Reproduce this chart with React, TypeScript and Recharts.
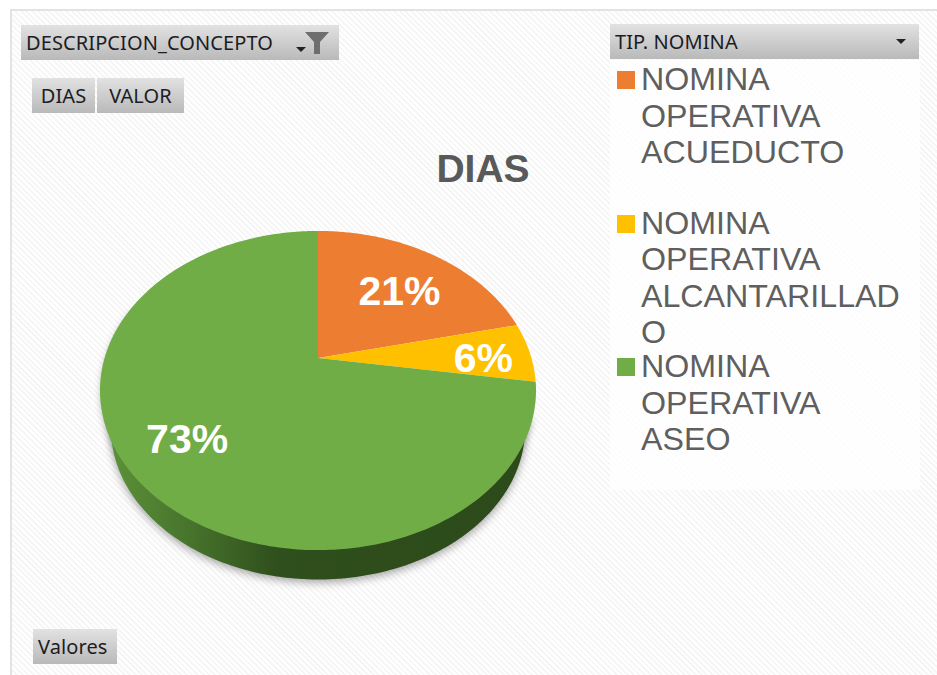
import React from 'react'
import { PieChart, Pie, Cell, Legend } from 'recharts'

const CATEGORIES = ['NOMINA OPERATIVA ACUEDUCTO', 'NOMINA OPERATIVA ALCANTARILLADO', 'NOMINA OPERATIVA ASEO']
// labels round these to 21%, 6% and 73%
const VALUES = [21.4, 6.0, 72.6]
const COLORS = ['#ED7D31', '#FFC000', '#70AD47']
// how far along the radius each percentage sits
const LABEL_RADIUS = [0.68, 0.78, 0.73]
const LABEL_SHIFT = [6, 4, 0]

const chartData = CATEGORIES.map((name, i) => ({ name, value: VALUES[i] }))

// tilted disc: the circle goes through a perspective projection around the pie centre
const TILT = 0.2038
const project = (cx: number, cy: number, r: number, angle: number, frac = 1) => {
  const rad = (angle * Math.PI) / 180
  const u = Math.sin(rad) * frac
  const x = Math.cos(rad) * frac
  const d = 1 + TILT * u
  return [cx + (1.334 * r * x) / d, cy - (0.956 * r * u) / d]
}

const sectorPath = (cx: number, cy: number, r: number, start: number, end: number, scale = 1, dy = 0) => {
  const pts: string[] = [`M${cx},${cy + dy}`]
  const steps = Math.ceil(Math.abs(end - start))
  for (let i = 0; i <= steps; i++) {
    const [px, py] = project(cx, cy, r, start + ((end - start) * i) / steps)
    pts.push(`L${(cx + (px - cx) * scale).toFixed(2)},${(cy + (py - cy) * scale + dy).toFixed(2)}`)
  }
  return pts.join(' ') + ' Z'
}

function TiltedSector(props: any) {
  const { cx, cy, outerRadius, startAngle, endAngle, fill, index } = props
  const isLast = index === VALUES.length - 1
  return (
    <g>
      {isLast && (
        <>
          {/* wall and soft shadow only on the front part, away from the orange and yellow edges */}
          <path
            d={sectorPath(cx, cy, outerRadius, startAngle - 12, endAngle + 70, 1, 3)}
            fill="rgba(0,0,0,0.22)"
            style={{ filter: 'blur(3px)' }}
          />
          <path
            d={sectorPath(cx, cy, outerRadius, startAngle, endAngle + 70, 0.95, 39)}
            fill="url(#wallFill)"
            style={{ filter: 'drop-shadow(0px 3px 4px rgba(0,0,0,0.35))' }}
          />
        </>
      )}
      <path d={sectorPath(cx, cy, outerRadius, startAngle, endAngle)} fill={fill} />
    </g>
  )
}

function PercentLabel(props: any) {
  const { cx, cy, outerRadius, midAngle, value, index } = props
  const [x, y] = project(cx, cy, outerRadius, midAngle, LABEL_RADIUS[index])
  return (
    <text
      x={x}
      y={y + LABEL_SHIFT[index]}
      fill="#fff"
      fontFamily="Liberation Sans"
      fontWeight="bold"
      fontSize={41}
      textAnchor="middle"
      dominantBaseline="central"
    >
      {Math.round(value)}%
    </text>
  )
}

function LegendList({ payload }: any) {
  return (
    <div style={{ background: 'rgba(255,255,255,0.78)', height: 430, fontFamily: 'Liberation Sans', color: '#5f5f5f' }}>
      {(payload ?? []).map((entry: any) => (
        <div key={entry.value} style={{ height: 143.5, position: 'relative' }}>
          <div style={{ position: 'absolute', left: 7, top: 11, width: 18, height: 18, background: entry.color }} />
          <div
            style={{
              position: 'absolute',
              left: 31,
              top: 1,
              width: 268,
              fontSize: 32.2,
              lineHeight: '36.5px',
              wordBreak: 'break-word',
              overflowWrap: 'anywhere',
            }}
          >
            {entry.value}
          </div>
        </div>
      ))}
    </div>
  )
}

function FieldButton({ left, top, width, center, children }: any) {
  return (
    <div
      style={{
        position: 'absolute',
        left,
        top,
        width,
        height: 35,
        boxSizing: 'border-box',
        paddingLeft: center ? 0 : 5,
        textAlign: center ? 'center' : 'left',
        background: 'linear-gradient(#e2e2e2, #b9b9b9)',
        fontFamily: 'Noto Sans',
        fontSize: 20,
        letterSpacing: 0.1,
        lineHeight: '35px',
        color: '#1c1c24',
        whiteSpace: 'nowrap',
      }}
    >
      {children}
    </div>
  )
}

const DropArrow = ({ left, top }: any) => (
  <div
    style={{
      position: 'absolute',
      left,
      top,
      width: 0,
      height: 0,
      borderLeft: '5px solid transparent',
      borderRight: '5px solid transparent',
      borderTop: '5px solid #222',
    }}
  />
)

export default function App() {
  return (
    <div
      style={{
        position: 'absolute',
        left: 0,
        top: 0,
        width: 937,
        height: 675,
        overflow: 'hidden',
        background: '#fff',
      }}
    >
      <div
        style={{
          position: 'absolute',
          left: 10,
          top: 9,
          width: 940,
          height: 680,
          border: '2px solid #e3e3e3',
          background: 'repeating-linear-gradient(45deg, #ffffff 0px, #ffffff 2px, #f6f6f6 2px, #f6f6f6 4px)',
        }}
      />
      <div style={{ position: 'absolute', left: 0, top: 0 }}>
        <PieChart width={937} height={675} margin={{ top: 0, right: 0, bottom: 0, left: 0 }}>
          <defs>
            <linearGradient id="wallFill" gradientUnits="userSpaceOnUse" x1="110" y1="0" x2="530" y2="0">
              <stop offset="0" stopColor="#5c9139" />
              <stop offset="0.18" stopColor="#48752d" />
              <stop offset="0.4" stopColor="#2f4f1c" />
              <stop offset="1" stopColor="#2c4a1a" />
            </linearGradient>
          </defs>
          <Pie
            data={chartData}
            dataKey="value"
            nameKey="name"
            cx={318}
            cy={358}
            outerRadius={160}
            startAngle={90}
            endAngle={-270}
            stroke="none"
            shape={TiltedSector}
            label={PercentLabel}
            labelLine={false}
            isAnimationActive={false}
          >
            {chartData.map((_, i) => (
              <Cell key={i} fill={COLORS[i]} />
            ))}
          </Pie>
          <Legend
            content={<LegendList />}
            wrapperStyle={{ position: 'absolute', left: 610, top: 60, width: 310, bottom: 'auto' }}
          />
          <text
            x={483}
            y={168}
            textAnchor="middle"
            dominantBaseline="central"
            fontFamily="Liberation Sans"
            fontWeight="bold"
            fontSize={39}
            fill="#595959"
          >
            DIAS
          </text>
        </PieChart>
      </div>

      <FieldButton left={21} top={25} width={318}>DESCRIPCION_CONCEPTO</FieldButton>
      <DropArrow left={296} top={47} />
      <svg style={{ position: 'absolute', left: 304, top: 31, width: 26, height: 24 }} viewBox="0 0 26 24">
        <path d="M1 1 H25 L16 11 V23 H10 V11 Z" fill="#6e6e6e" />
      </svg>
      <FieldButton left={32} top={78} width={63} center>DIAS</FieldButton>
      <FieldButton left={97} top={78} width={87} center>VALOR</FieldButton>
      <FieldButton left={610} top={24} width={309}>TIP. NOMINA</FieldButton>
      <DropArrow left={896} top={39} />
      <FieldButton left={33} top={629} width={84}>Valores</FieldButton>
    </div>
  )
}
